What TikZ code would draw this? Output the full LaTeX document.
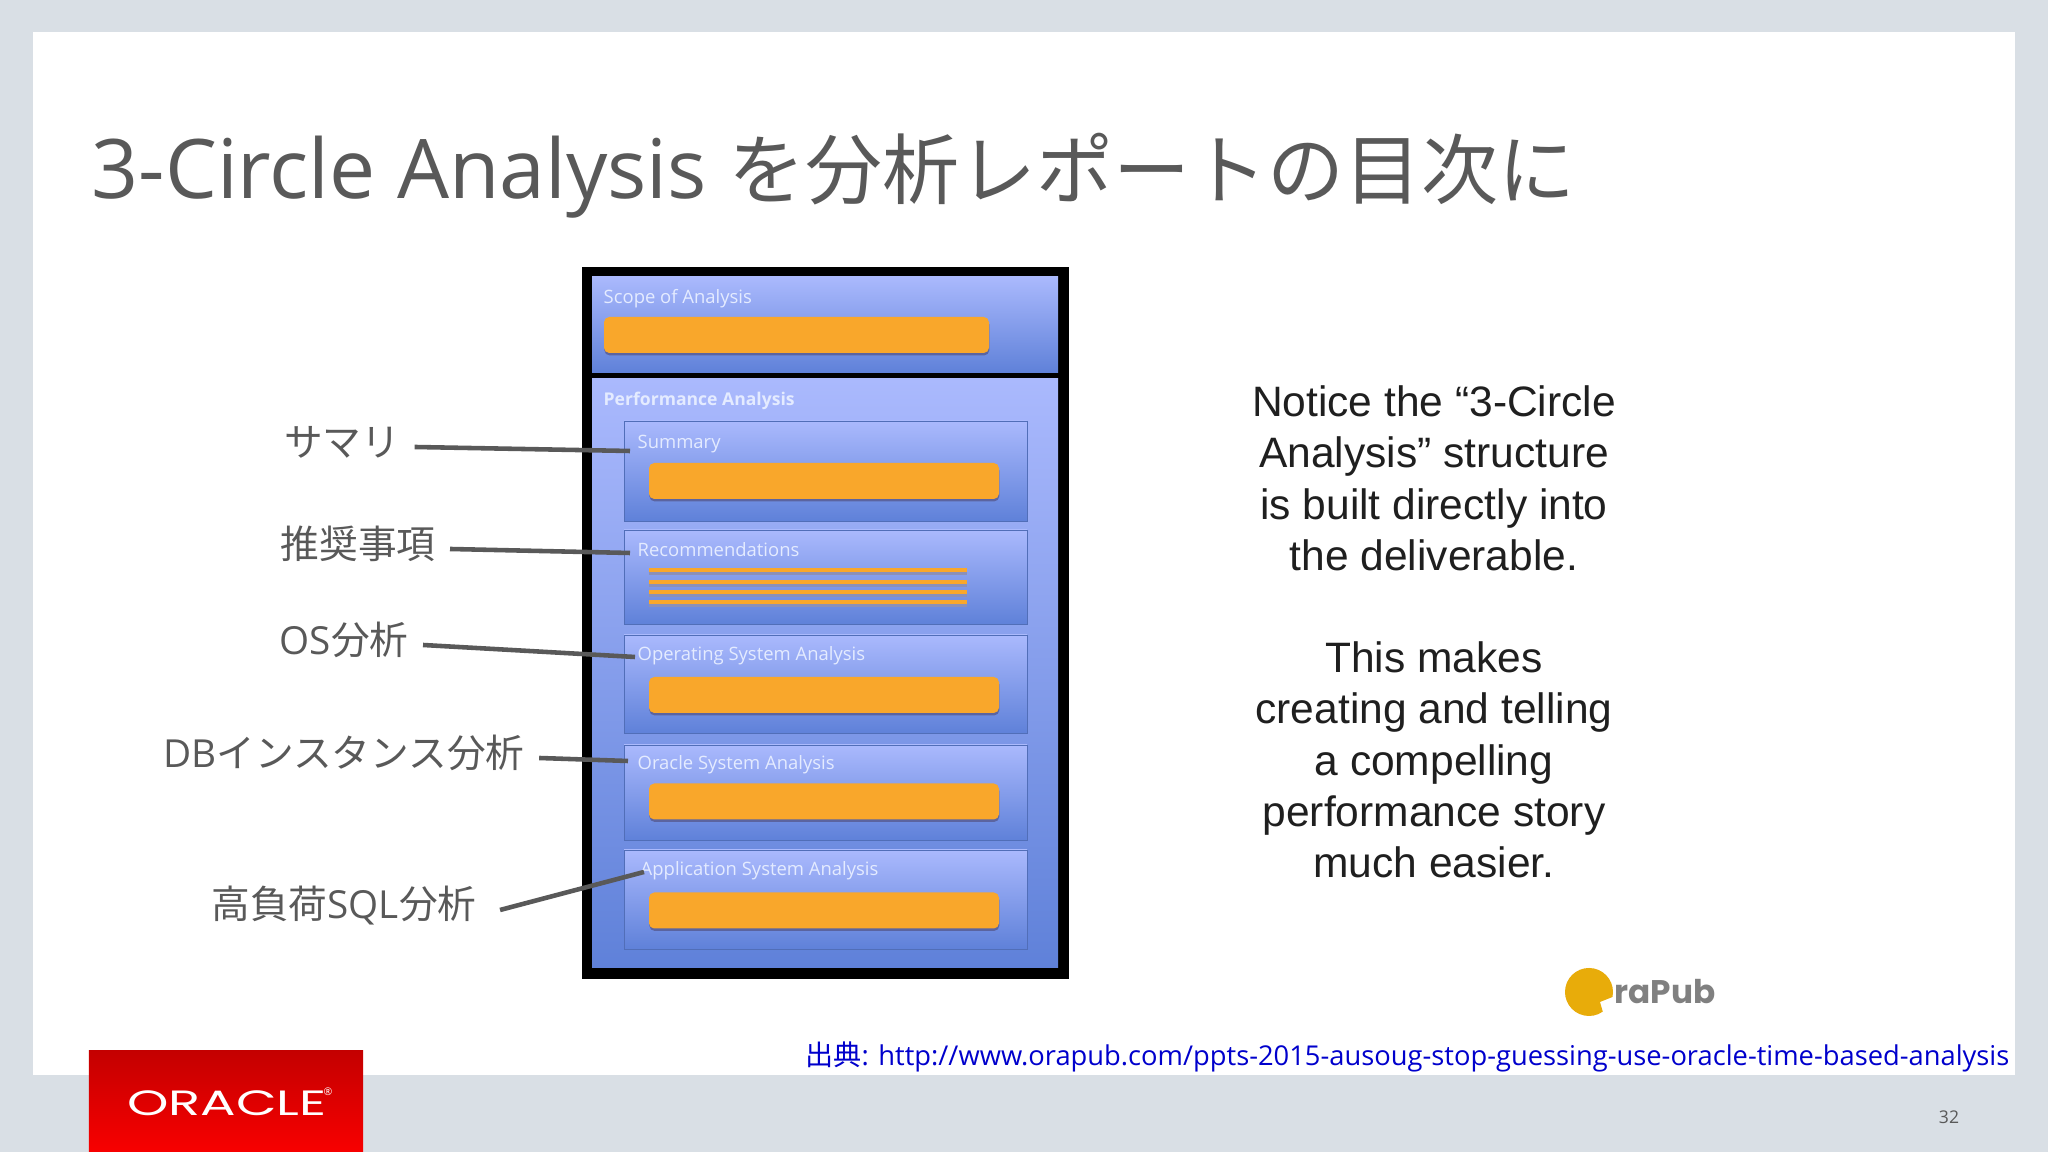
\documentclass[tikz,border=0pt]{standalone}
\usepackage{xcolor}
\usepackage{fontspec}
\usepackage{tikz}
\usetikzlibrary{positioning, shadows}
\setmainfont{Open Sans}
\newfontfamily\jpfont{Noto Sans CJK JP}
\newfontfamily\armfont{Liberation Sans}
\newfontfamily\cardfont{Open Sans}
\newfontfamily\logofont{Poppins}
\definecolor{slBg}{HTML}{D9DFE5}
\definecolor{slGray}{HTML}{595959}
\definecolor{slBlueTop}{HTML}{AAB9FD}
\definecolor{slBlueLow}{HTML}{5F81D9}
\definecolor{slOrange}{HTML}{F9A72B}
\definecolor{slShade}{HTML}{59609A}
\definecolor{slCardText}{HTML}{E4EBFF}
\definecolor{slLink}{HTML}{0000CC}
\definecolor{slRedTop}{HTML}{C40000}
\definecolor{slRedLow}{HTML}{F80000}
\definecolor{slPub}{HTML}{E8AC0A}
\tikzset{
  panel/.style={
    rectangle, inner sep=0pt,
    top color=slBlueTop, bottom color=slBlueLow,
    minimum width=4.66cm
  },
  subpanel/.style={
    rectangle, inner sep=0pt,
    top color=slBlueTop, bottom color=slBlueLow,
    draw=slBlueLow!85!black, line width=0.2pt,
    minimum width=4.03cm
  },
  bar/.style={
    rectangle, rounded corners=1.5pt, inner sep=0pt,
    fill=slOrange,
    drop shadow={shadow xshift=0.1pt, shadow yshift=-0.7pt, fill=slShade, opacity=0.9},
    minimum width=3.50cm, minimum height=0.36cm
  },
  barline/.style={slOrange, line width=1.0pt},
  barshade/.style={slShade!70, line width=1.0pt},
  cardtext/.style={
    anchor=west, inner sep=0pt, text=slCardText,
    font=\cardfont\fontsize{5.25}{6}\selectfont
  },
  leader/.style={slGray, line width=1.3pt},
  tag/.style={
    inner xsep=0.14cm, inner ysep=0pt, text=slGray,
    font=\fontsize{11}{12}\selectfont
  }
}
\begin{document}
\begin{tikzpicture}
  \useasboundingbox (0,0) rectangle (20.48,11.52);
  \fill[slBg] (0,0) rectangle (20.48,11.52);
  \fill[white] (0.33,0.77) rectangle (20.15,11.20);

  \node[anchor=west, inner sep=0pt, text=slGray, font=\fontsize{23.4}{24}\selectfont] (title) at (0.91,9.76) {3-Circle Analysis {\jpfont\fontsize{21.9}{24}\selectfont を分析レポートの目次に}};

  % report frame
  \node[rectangle, fill=black, inner sep=0pt, minimum width=4.87cm, minimum height=7.12cm] (frame) at (8.255,5.29) {};
  \node[panel, minimum height=0.96cm] (scope) at (8.25,8.27) {};
  \node[panel, minimum height=5.89cm] (perf) at (8.25,4.785) {};
  \node[bar, minimum width=3.85cm] (scopebar) at (7.965,8.17) {};
  \node[cardtext] (scopetxt) at (6.03,8.53) {Scope of Analysis};
  \node[cardtext, font=\cardfont\bfseries\fontsize{5}{6}\selectfont] (perftxt) at (6.03,7.51) {Performance Analysis};

  \node[subpanel, minimum height=1.00cm] (summary) at (8.255,6.81) {};
  \node[subpanel, minimum height=0.94cm] (recomm) at (8.255,5.75) {};
  \node[subpanel, minimum height=0.98cm] (opsys) at (8.255,4.68) {};
  \node[subpanel, minimum height=0.95cm] (orasys) at (8.255,3.595) {};
  \node[subpanel, minimum height=0.99cm] (appsys) at (8.255,2.525) {};

  \node[bar] (summarybar) at (8.24,6.71) {};
  \node[bar] (opsysbar) at (8.24,4.57) {};
  \node[bar] (orasysbar) at (8.24,3.505) {};
  \node[bar] (appsysbar) at (8.24,2.415) {};
  \foreach \y in {5.82, 5.70, 5.60, 5.50} {
    \draw[barshade] (6.49,\y-0.03) -- (9.67,\y-0.03);
    \draw[barline] (6.49,\y) -- (9.67,\y);
  }

  \node[cardtext] (summarytxt) at (6.37,7.08) {Summary};
  \node[cardtext] (recommtxt) at (6.37,6.02) {Recommendations};
  \node[cardtext] (opsystxt) at (6.37,4.96) {Operating System Analysis};
  \node[cardtext] (orasystxt) at (6.37,3.87) {Oracle System Analysis};
  \node[cardtext] (appsystxt) at (6.40,2.81) {Application System Analysis};

  % labels on the left
  \node[tag] (lblsummary) at (3.42,7.10) {\jpfont サマリ};
  \node[tag] (lblrecomm) at (3.58,6.08) {\jpfont 推奨事項};
  \node[tag] (lblos) at (3.44,5.12) {OS{\jpfont 分析}};
  \node[tag] (lbldb) at (3.44,3.99) {DB{\jpfont インスタンス分析}};
  \node[tag] (lblsql) at (3.44,2.46) {{\jpfont 高負荷}SQL{\jpfont 分析}};
  \coordinate (endsummary) at (6.30,7.01);
  \coordinate (endrecomm) at (6.30,5.99);
  \coordinate (endos) at (6.35,4.95);
  \coordinate (enddb) at (6.28,3.91);
  \coordinate (endsql) at (6.44,2.80);
  \draw[leader] ([yshift=-0.5mm]lblsummary.east) -- (endsummary);
  \draw[leader] ([yshift=-0.5mm]lblrecomm.east) -- (endrecomm);
  \draw[leader] ([yshift=-0.5mm]lblos.east) -- (endos);
  \draw[leader] ([yshift=-0.5mm]lbldb.east) -- (enddb);
  \draw[leader] ([xshift=0.9mm, yshift=-0.4mm]lblsql.east) -- (endsql);

  \node[align=center, inner sep=0pt, text=black!88, font=\armfont\fontsize{12.1}{14.57}\selectfont] (notice) at (14.34,5.20) {Notice the “3-Circle\\Analysis” structure\\is built directly into\\the deliverable.\\[14.57pt]This makes\\creating and telling\\a compelling\\performance story\\much easier.};

  % publisher logo
  \fill[slPub] (15.89,1.60) ++(-12:0.24) arc (-12:305:0.24) -- (16.00,1.50) -- cycle;
  \node[anchor=west, inner sep=0pt, text=black!50, font=\logofont\bfseries\fontsize{9.3}{10}\selectfont] (pubtxt) at (16.14,1.60) {raPub};

  \node[anchor=east, inner sep=0pt, text=slLink, font=\fontsize{7.77}{10}\selectfont] (source) at (20.10,0.955) {{\jpfont\fontsize{8}{10}\selectfont 出典}: http://www.orapub.com/ppts-2015-ausoug-stop-guessing-use-oracle-time-based-analysis};
  \node[inner sep=0pt, text=slGray, font=\fontsize{5}{6}\selectfont] (pageno) at (19.49,0.35) {32};

  % red logo
  \node[rectangle, inner sep=0pt, top color=slRedTop, bottom color=slRedLow, minimum width=2.74cm, minimum height=1.01cm] (logobox) at (2.26,0.505) {};
  \node[inner sep=0pt, text=white, xscale=1.5, font=\logofont\fontsize{10}{10}\selectfont] (logotxt) at (2.27,0.49) {ORACLE};
  \node[inner sep=0pt, text=white, font=\fontsize{3}{3}\selectfont] (logoreg) at (3.28,0.60) {®};
\end{tikzpicture}
\end{document}
